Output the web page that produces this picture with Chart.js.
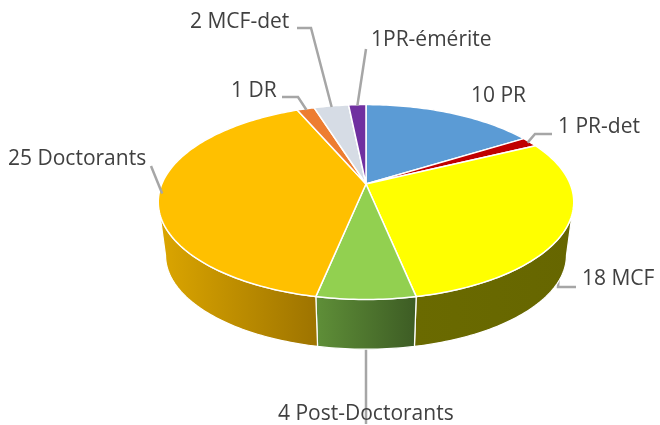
<!DOCTYPE html>
<html>
<head>
<meta charset="utf-8">
<style>
  html, body { margin: 0; padding: 0; background: #fff; }
</style>
<script src="https://cdn.jsdelivr.net/npm/chart.js@4"></script>
</head>
<body>
<canvas id="pie3d" width="660" height="425"></canvas>
<script>
// categories and values
const categories = ['PR', 'PR-det', 'MCF', 'Post-Doctorants', 'Doctorants', 'DR', 'MCF-det', 'PR-émérite'];
const effectifs = [10, 1, 18, 4, 25, 1, 2, 1];
const labelTexts = ['10 PR', '1 PR-det', '18 MCF', '4 Post-Doctorants', '25 Doctorants', '1 DR', '2 MCF-det', '1PR-émérite'];

// colours of the top face, and of the side wall (left / right of the gradient)
const topColors = ['#5B9BD5', '#C00000', '#FFFF00', '#92D050', '#FFC000', '#ED7D31', '#D6DCE5', '#7030A0'];
const sideLeft = ['#3F6C95', '#860000', '#6A6A00', '#5F8F38', '#DCA600', '#A55722', '#959AA0', '#4E2270'];
const sideRight = ['#3F6C95', '#860000', '#666600', '#3D5C24', '#9E7400', '#A55722', '#959AA0', '#4E2270'];

// label placement: text left / vertical middle, then the elbows of the leader line
const labelPos = [
  { x: 471, y: 96, elbows: null },
  { x: 558, y: 127, elbows: [[535, 134], [552, 134]] },
  { x: 582, y: 279, elbows: [[558, 287], [576, 287]], behind: true },
  { x: 278, y: 414, elbows: [[366, 424]], behind: true },
  { x: 8, y: 159, elbows: [[151, 166]] },
  { x: 231, y: 91, elbows: [[298, 97], [282, 97]] },
  { x: 190, y: 22, elbows: [[311, 28], [297, 28]] },
  { x: 371, y: 40, elbows: [[366, 49]] }
];

// perspective of the tilted disc, as fractions of the library's radius
const persp = 0.185;
const scaleX = 205 / 184;
const scaleY = 94.5 / 184;
const wallDrop = 54 / 184;
const wallShrink = 0.965;

// Projects a point of the flat pie (angle, fraction of radius) on the tilted disc
function project(arc, angle, frac, bottom) {
  const u = Math.cos(angle) * frac;
  const v = Math.sin(angle) * frac;
  const w = 1 - persp * v;
  const s = bottom ? wallShrink : 1;
  return {
    x: arc.x + arc.outerRadius * scaleX * s * u / w,
    y: arc.y + arc.outerRadius * (scaleY * s * v / w + (bottom ? wallDrop : 0))
  };
}

function traceRim(ctx, arc, from, to, bottom) {
  const steps = Math.max(2, Math.ceil(Math.abs(to - from) / 0.02));
  for (let i = 0; i <= steps; i++) {
    const p = project(arc, from + (to - from) * i / steps, 1, bottom);
    ctx.lineTo(p.x, p.y);
  }
}

// top face: the library still loops over its arcs, they just get projected
Chart.ArcElement.prototype.draw = function (ctx) {
  const o = this.options;
  const c = project(this, 0, 0, false);
  ctx.save();
  ctx.beginPath();
  ctx.moveTo(c.x, c.y);
  traceRim(ctx, this, this.startAngle, this.endAngle, false);
  ctx.closePath();
  ctx.fillStyle = o.backgroundColor;
  ctx.fill();
  ctx.strokeStyle = o.borderColor;
  ctx.lineWidth = o.borderWidth;
  ctx.lineJoin = 'round';
  ctx.stroke();
  ctx.restore();
};

function drawLeader(ctx, arc, pos) {
  if (!pos.elbows) return;
  const mid = (arc.startAngle + arc.endAngle) / 2;
  const a = project(arc, mid, 0.985, false);
  ctx.save();
  ctx.strokeStyle = '#A6A6A6';
  ctx.lineWidth = 2.5;
  ctx.beginPath();
  ctx.moveTo(a.x, a.y);
  pos.elbows.forEach(e => ctx.lineTo(e[0], e[1]));
  ctx.stroke();
  ctx.restore();
}

const wallPlugin = {
  id: 'wall3d',
  beforeDatasetsDraw(chart) {
    const ctx = chart.ctx;
    const arcs = chart.getDatasetMeta(0).data;
    arcs.forEach((arc, i) => { if (labelPos[i].behind) drawLeader(ctx, arc, labelPos[i]); });
    // only the part of the wall facing us is visible
    const lo = Math.asin(persp);
    const hi = Math.PI - lo;
    arcs.forEach((arc, i) => {
      const from = Math.max(arc.startAngle, lo);
      const to = Math.min(arc.endAngle, hi);
      if (to <= from) return;
      const a = project(arc, from, 1, false);
      const b = project(arc, to, 1, false);
      const g = ctx.createLinearGradient(Math.min(a.x, b.x), 0, Math.max(a.x, b.x), 0);
      g.addColorStop(0, sideLeft[i]);
      g.addColorStop(1, sideRight[i]);
      ctx.save();
      ctx.beginPath();
      traceRim(ctx, arc, from, to, false);
      traceRim(ctx, arc, to, from, true);
      ctx.closePath();
      ctx.fillStyle = g;
      ctx.fill();
      ctx.strokeStyle = '#FFFFFF';
      ctx.lineWidth = 1.25;
      ctx.stroke();
      ctx.restore();
    });
  },
  afterDatasetsDraw(chart) {
    const ctx = chart.ctx;
    const arcs = chart.getDatasetMeta(0).data;
    arcs.forEach((arc, i) => { if (!labelPos[i].behind) drawLeader(ctx, arc, labelPos[i]); });
    ctx.save();
    ctx.font = '21px "Open Sans"';
    ctx.fillStyle = '#404040';
    ctx.textAlign = 'left';
    ctx.textBaseline = 'middle';
    labelTexts.forEach((t, i) => ctx.fillText(t, labelPos[i].x, labelPos[i].y));
    ctx.restore();
  }
};

new Chart(document.getElementById('pie3d'), {
  type: 'pie',
  data: {
    labels: categories,
    datasets: [{
      data: effectifs,
      backgroundColor: topColors,
      borderColor: '#FFFFFF',
      borderWidth: 1.5
    }]
  },
  plugins: [wallPlugin],
  options: {
    responsive: false,
    animation: false,
    layout: { padding: { left: 72, bottom: 57 } },
    plugins: {
      legend: { display: false },
      tooltip: { enabled: false }
    }
  }
});
</script>
</body>
</html>
